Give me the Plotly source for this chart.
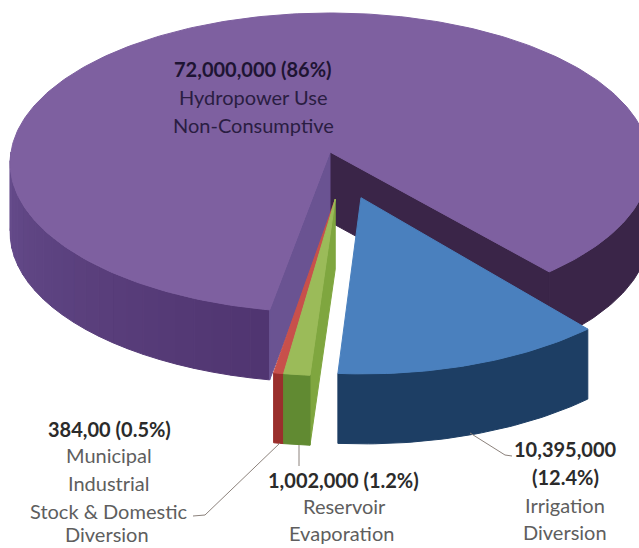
import math
import plotly.graph_objects as go

# Data
categories = ["Hydropower Use Non-Consumptive", "Irrigation Diversion", "Reservoir Evaporation",
              "Municipal Industrial Stock & Domestic Diversion"]
values = [72000000, 10395000, 1002000, 384000]
top_colors = ["#7E60A0", "#4A80BE", "#9BBB59", "#C8504B"]
side_colors = ["#5A3F7E", "#1D3E64", "#618A32", "#9A2F2C"]
cut_colors = ["#6A5392", "#1D3E64", "#7FA63F", "#B04440"]
inner_dark = "#3A2548"

# Projection of the tilted disc
CX, CY, A, B, K, DEPTH = 330, 152, 319, 149, 0.072, 70
START = 49.5
total = sum(values)
spans = [v / total * 360 for v in values]


def proj(X, Y, drop=0):
    p = 1 / (1 - K * Y)
    return CX + A * X * p, CY + B * Y * p + drop


def arc(a0, a1, ox, oy, drop=0, n=None, ys=1.0):
    n = n or max(2, int(abs(a1 - a0)) + 2)
    pts = []
    for i in range(n):
        t = math.radians(a0 + (a1 - a0) * i / (n - 1))
        pts.append(proj(ox + math.cos(t), oy + ys * math.sin(t), drop))
    return pts


fig = go.Figure()


def poly(pts, color):
    xs = [p[0] for p in pts] + [pts[0][0]]
    ys = [p[1] for p in pts] + [pts[0][1]]
    fig.add_trace(go.Scatter(x=xs, y=ys, mode="lines", fill="toself", fillcolor=color,
                             line=dict(color=color, width=1), hoverinfo="skip", showlegend=False))


def mix(c1, c2, t):
    a = [int(c1[i:i + 2], 16) for i in (1, 3, 5)]
    b = [int(c2[i:i + 2], 16) for i in (1, 3, 5)]
    return "#%02x%02x%02x" % tuple(round(u + (v - u) * t) for u, v in zip(a, b))


def rim(a0, a1, ox, oy, c0, c1, steps):
    for i in range(steps):
        s0 = a0 + (a1 - a0) * i / steps
        s1 = a0 + (a1 - a0) * (i + 1) / steps
        poly(arc(s0, s1, ox, oy) + arc(s0, s1, ox, oy, DEPTH)[::-1], mix(c0, c1, (i + 0.5) / steps))


# angle bookkeeping: irrigation, reservoir, municipal clockwise from START, then hydropower
blue0 = START
blue1 = blue0 + spans[1]
green1 = blue1 + spans[2]
red1 = green1 + spans[3]
purple0 = red1
purple1 = START + 360

# Hydropower (not exploded)
c = proj(0, 0)
cd = proj(0, 0, DEPTH)
s_end = arc(purple1, purple1, 0, 0, n=2)[0]
s_end_d = arc(purple1, purple1, 0, 0, DEPTH, n=2)[0]
s_start = arc(purple0, purple0, 0, 0, n=2)[0]
s_start_d = arc(purple0, purple0, 0, 0, DEPTH, n=2)[0]
rim(purple0, 180, 0, 0, "#503570", "#664C8C", 24)
rim(0, START, 0, 0, inner_dark, inner_dark, 1)
poly([c, s_end, s_end_d, cd], inner_dark)
poly([c, s_start, s_start_d, cd], cut_colors[0])
poly([c] + arc(purple0, purple1, 0, 0), top_colors[0])

# Exploded slices


def slice_(a0, a1, i, right_face, ox, oy, ys=1.045):
    c = proj(ox, oy)
    cd = proj(ox, oy, DEPTH)
    e = arc(a0, a0, ox, oy, n=2, ys=ys)[0]
    ed = arc(a0, a0, ox, oy, DEPTH, n=2, ys=ys)[0]
    if right_face:
        poly([c, e, ed, cd], cut_colors[i])
    poly(arc(a0, a1, ox, oy, ys=ys) + arc(a0, a1, ox, oy, DEPTH, ys=ys)[::-1], side_colors[i])
    poly([c] + arc(a0, a1, ox, oy, ys=ys), top_colors[i])


slice_(green1, red1, 3, False, 0.016, 0.31)
slice_(blue1, green1, 2, True, 0.016, 0.31)
slice_(blue0, blue1, 1, False, 0.095, 0.30)

# Leader lines
for xs, ys in [([470, 505, 512], [433, 455, 456]),
               ([280, 205, 193], [443, 515, 516]),
               ([299, 299], [445, 466])]:
    fig.add_trace(go.Scatter(x=xs, y=ys, mode="lines", line=dict(color="#8C827C", width=1),
                             hoverinfo="skip", showlegend=False))

# Labels
FONT = "Lato"
labels = [
    (253, 69, "72,000,000 (86%)", True, "#1E1433"),
    (253, 97, "Hydropower Use", False, "#2A1D42"),
    (253, 125, "Non-Consumptive", False, "#2A1D42"),
    (109, 429, "384,00 (0.5%)", True, "#2B2B2B"),
    (109, 455, "Municipal", False, "#5E5E5E"),
    (109, 483, "Industrial", False, "#5E5E5E"),
    (108, 511, "Stock &amp; Domestic", False, "#5E5E5E"),
    (107, 534, "Diversion", False, "#5E5E5E"),
    (343, 480, "1,002,000 (1.2%)", True, "#2B2B2B"),
    (344, 506, "Reservoir", False, "#5E5E5E"),
    (341, 533, "Evaporation", False, "#5E5E5E"),
    (565, 449, "10,395,000", True, "#2B2B2B"),
    (565, 477, "(12.4%)", True, "#2B2B2B"),
    (565, 505, "Irrigation", False, "#5E5E5E"),
    (565, 532, "Diversion", False, "#5E5E5E"),
]
for x, y, t, bold, col in labels:
    fig.add_annotation(x=x, y=y, xref="x", yref="y", text=f"<b>{t}</b>" if bold else t, showarrow=False,
                       font=dict(family=FONT, size=20 if bold else 20, color=col),
                       xanchor="center", yanchor="middle")

fig.update_layout(
    width=639, height=548, margin=dict(l=0, r=0, t=0, b=0),
    paper_bgcolor="white", plot_bgcolor="white", showlegend=False,
    xaxis=dict(range=[0, 639], visible=False, fixedrange=True),
    yaxis=dict(range=[548, 0], visible=False, fixedrange=True),
)
fig.write_html("out.html", config={"displayModeBar": False},
               post_script="document.body.style.margin='0';")
